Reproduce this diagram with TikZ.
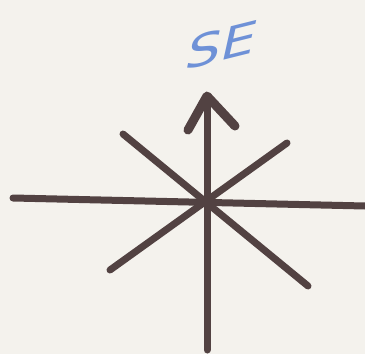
\documentclass[tikz,border=0pt]{standalone}
\usepackage{fontspec}
\setmainfont{DejaVu Sans}
\definecolor{paper}{RGB}{244,242,237}
\definecolor{ink}{RGB}{82,66,66}
\definecolor{pen}{RGB}{110,145,215}
\begin{document}
\begin{tikzpicture}[x=1pt,y=-1pt,
  stroke/.style={draw=ink,line width=7pt,line cap=round,line join=round}]
\fill[paper] (0,0) rectangle (365,354);
\useasboundingbox (0,0) rectangle (365,354);
\coordinate (c) at (207,203);
\coordinate (w) at (13,198);
\coordinate (e) at (365,206);
\coordinate (n) at (207,96);
\coordinate (s) at (207,350);
\coordinate (nw) at (123,134);
\coordinate (se) at (308,286);
\coordinate (ne) at (287,143);
\coordinate (sw) at (110,270);
\coordinate (al) at (188,130);
\coordinate (ar) at (235,126);
\draw[stroke] (w) -- (e);
\draw[stroke] (n) -- (s);
\draw[stroke] (nw) -- (se);
\draw[stroke] (ne) -- (sw);
\draw[stroke,line width=9pt] (al) -- (n) -- (ar);
\node[text=pen,font=\fontsize{42}{42}\selectfont,rotate=14,xslant=0.5,xscale=1.35,inner sep=0pt] (lbl) at (222,45) {SE};
\end{tikzpicture}
\end{document}
